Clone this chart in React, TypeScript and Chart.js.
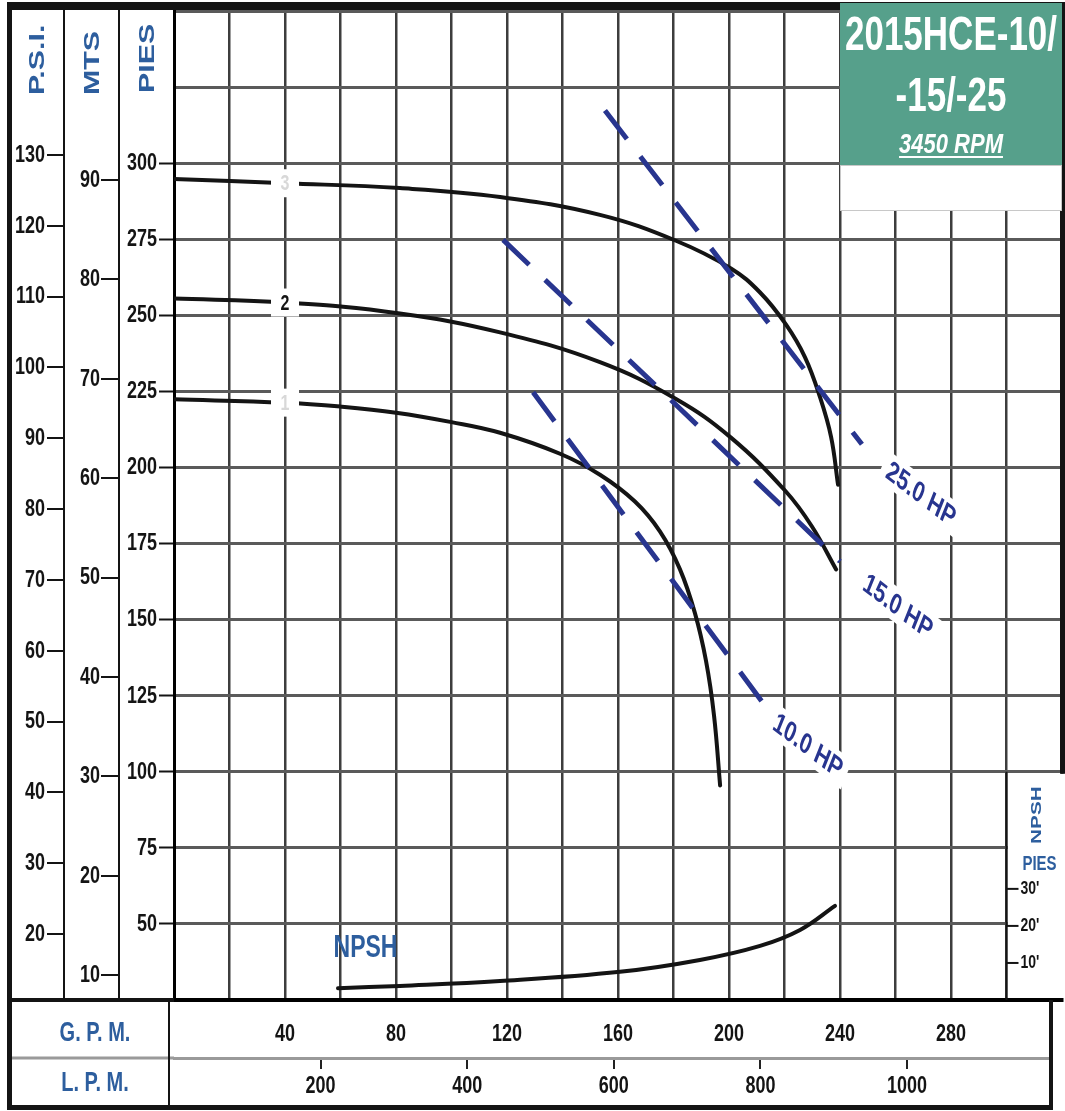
import React, { useEffect, useRef } from "react";
import { Chart, registerables } from "chart.js";

Chart.register(...registerables);

// ---------------- data ----------------
const GPM_GRID = [0, 20, 40, 60, 80, 100, 120, 140, 160, 180, 200, 220, 240, 260, 280, 300, 320];
const GPM_LABELS = [40, 80, 120, 160, 200, 240, 280];
const LPM_LABELS = [200, 400, 600, 800, 1000];
const PIES_GRID = [25, 50, 75, 100, 125, 150, 175, 200, 225, 250, 275, 300, 325, 350];
const PIES_LABELS = [50, 75, 100, 125, 150, 175, 200, 225, 250, 275, 300];
const MTS_LABELS = [10, 20, 30, 40, 50, 60, 70, 80, 90];
const PSI_LABELS = [20, 30, 40, 50, 60, 70, 80, 90, 100, 110, 120, 130];
const NPSH_LABELS = [10, 20, 30];

// head curves (flow in GPM, head in feet)
const FLOW_1 = [0, 40, 60, 80, 100, 117.5, 139.1, 153.5, 166.1, 175.1, 182.3, 187.7, 191.7, 194.6, 196.8];
const HEAD_1 = [222.4, 221.3, 220.0, 218.0, 214.9, 211.4, 204.5, 197.6, 188.8, 179.0, 166.6, 152.2, 136.5, 118.5, 95.5];
const FLOW_2 = [0, 40.4, 81.4, 117.5, 153.5, 180.9, 200.7, 220.5, 229.9, 238.6];
const HEAD_2 = [255.5, 254.2, 250.6, 244.4, 234.6, 222.5, 209.8, 192.1, 180.6, 166.5];
const FLOW_3 = [0, 40.4, 81.4, 117.5, 153.5, 180.9, 200.7, 211.2, 220.5, 227.4, 232.8, 236.8, 239.3];
const HEAD_3 = [294.8, 293.4, 291.8, 288.9, 283.0, 274.5, 265.4, 257.5, 247.0, 236.2, 223.1, 210.0, 194.3];

// NPSH required (flow GPM, feet)
const NPSH_FLOW = [59.1, 81.4, 117.5, 160.7, 189.5, 211.2, 225.6, 238.2];
const NPSH_FT = [3.2, 3.8, 5.1, 7.6, 10.8, 14.6, 18.9, 25.4];

// horsepower lines
const HP_NAMES = ["25.0 HP", "15.0 HP", "10.0 HP"];
const HP_FLOW_START = [155.3, 118.6, 129.4];
const HP_HEAD_START = [317.3, 274.8, 224.7];
const HP_FLOW_END = [247.9, 240.0, 213.0];
const HP_HEAD_END = [207.6, 169.1, 121.7];
const HP_LABEL_FLOW = [269.2, 260.9, 228.5];
const HP_LABEL_HEAD = [191.3, 154.4, 108.6];

// curve numbers
const CURVE_NAMES = ["1", "2", "3"];
const CURVE_LABEL_FLOW = 40;
const CURVE_LABEL_HEAD = [221.3, 254.2, 293.4];

// axis ranges
const GPM_MIN = 0;
const GPM_MAX = 320;
const LPM_PER_GPM = 3.78541;
const PIES_MIN = 25;
const PIES_MAX = 350;
const MTS_MIN = 7.5;
const MTS_MAX = 107;
const PSI_MIN = 10.7;
const PSI_MAX = 150.3;
const NPSH_MIN = 0;
const NPSH_MAX = 267;
const NPSH_AXIS_GPM = 300;
const NPSH_CORNER_FT = 100;

const TITLE_1 = "2015HCE-10/";
const TITLE_2 = "-15/-25";
const TITLE_3 = "3450 RPM";

// ---------------- styles ----------------
const SANS = '"Liberation Sans", Arial, "DejaVu Sans", sans-serif';
const STRETCH = 1.38;
const BLUE = "#2d5e9e";
const NAVY = "#28358f";
const GREEN = "#56a08b";
const INK = "#141414";
const TICK_FONT = `bold 18px ${SANS}`;

function tallText(ctx: any, text: string, x: number, y: number, font: string, color: string, align = "center", baseline = "middle", sy = STRETCH) {
  ctx.save();
  ctx.translate(x, y);
  ctx.scale(1, sy);
  ctx.font = font;
  ctx.fillStyle = color;
  ctx.textAlign = align;
  ctx.textBaseline = baseline;
  ctx.fillText(text, 0, 0);
  ctx.restore();
}

function upText(ctx: any, text: string, x: number, y: number, font: string, color: string, align = "left") {
  ctx.save();
  ctx.translate(x, y);
  ctx.rotate(-Math.PI / 2);
  ctx.scale(STRETCH, 1);
  ctx.font = font;
  ctx.fillStyle = color;
  ctx.textAlign = align;
  ctx.textBaseline = "middle";
  ctx.fillText(text, 0, 0);
  ctx.restore();
}

// tall condensed tick labels, taken from each Chart.js scale's own ticks
function drawScaleLabels(ctx: any, scale: any) {
  const o = scale.options;
  const tl = o.grid.tickLength;
  const pad = o.ticks.padding;
  scale.ticks.forEach((t: any) => {
    const label = t.label;
    if (label === "" || label == null) return;
    const p = scale.getPixelForValue(t.value);
    if (scale.isHorizontal()) {
      tallText(ctx, String(label), p, scale.top + tl + pad, TICK_FONT, INK, "center", "middle");
    } else {
      tallText(ctx, String(label), scale.right - tl - pad, p, TICK_FONT, INK, "right", "middle");
    }
  });
}

const overlayPlugin = {
  id: "overlay",
  afterDraw(chart: any) {
    const { ctx, chartArea: ca, scales } = chart;
    const gx = scales.gpm;
    const py = scales.pies;
    const ny = scales.npsh;
    ctx.save();

    ["psi", "mts", "pies", "gpm", "lpm"].forEach((id) => drawScaleLabels(ctx, scales[id]));

    // blank bottom-right corner holding the NPSH scale
    const xN = gx.getPixelForValue(NPSH_AXIS_GPM);
    const yTop = py.getPixelForValue(NPSH_CORNER_FT);
    ctx.fillStyle = "#fff";
    ctx.fillRect(xN + 1.5, yTop + 2, 1065 - xN, ca.bottom - yTop - 4);
    ctx.fillRect(1053, ca.bottom + 3, 12, 1111 - ca.bottom);

    ctx.strokeStyle = INK;
    ctx.lineWidth = 2;
    ctx.beginPath();
    ctx.moveTo(xN, yTop);
    ctx.lineTo(xN, ca.bottom);
    ctx.stroke();
    NPSH_LABELS.forEach((v) => {
      const y = ny.getPixelForValue(v);
      ctx.beginPath();
      ctx.moveTo(xN, y);
      ctx.lineTo(xN + 12, y);
      ctx.stroke();
      tallText(ctx, v + "'", xN + 14, y, `bold 14px ${SANS}`, INK, "left", "middle", 1.3);
    });
    const y30 = ny.getPixelForValue(NPSH_LABELS[2]);
    upText(ctx, "NPSH", xN + 30, y30 - 45, `bold 15px ${SANS}`, BLUE, "left");
    tallText(ctx, "PIES", xN + 33, y30 - 25, `bold 15px ${SANS}`, BLUE, "center");

    // label near the NPSH curve
    tallText(ctx, "NPSH", gx.getPixelForValue(69), ny.getPixelForValue(14), `bold 23px ${SANS}`, BLUE, "center");

    // frame
    ctx.fillStyle = INK;
    ctx.fillRect(7, 2, 1058, 8);
    ctx.fillRect(7, 2, 5, 1108);
    ctx.fillRect(7, 1105, 1046, 5);
    ctx.fillRect(1060, 2, 5, yTop);
    ctx.fillRect(1049, ca.bottom, 4, 1110 - ca.bottom);
    ctx.fillRect(12, ca.bottom - 2, ca.left - 12, 4);
    ctx.fillStyle = "#9a9a9a";
    ctx.fillRect(12, scales.lpm.top - 1.5, ca.left - 12, 3);
    ctx.fillStyle = INK;
    ctx.fillRect(168, ca.bottom, 2, 1106 - ca.bottom);

    // axis titles
    upText(ctx, "P.S.I.", 38, 95, `bold 22px ${SANS}`, BLUE);
    upText(ctx, "MTS", 93, 95, `bold 22px ${SANS}`, BLUE);
    upText(ctx, "PIES", 148, 93, `bold 22px ${SANS}`, BLUE);
    tallText(ctx, "G. P. M.", 95, 1033, `bold 20px ${SANS}`, BLUE);
    tallText(ctx, "L. P. M.", 95, 1083, `bold 20px ${SANS}`, BLUE);

    // curve numbers
    CURVE_NAMES.forEach((name, i) => {
      const x = gx.getPixelForValue(CURVE_LABEL_FLOW);
      const y = py.getPixelForValue(CURVE_LABEL_HEAD[i]);
      ctx.fillStyle = "#fff";
      ctx.fillRect(x - 14, y - 14, 28, 28);
      tallText(ctx, name, x, y + 1, `bold 16px ${SANS}`, i === 1 ? INK : "#d8d8d8");
    });

    // horsepower labels
    HP_NAMES.forEach((name, i) => {
      const x = gx.getPixelForValue(HP_LABEL_FLOW[i]);
      const y = py.getPixelForValue(HP_LABEL_HEAD[i]);
      ctx.save();
      ctx.translate(x, y);
      ctx.scale(1, STRETCH);
      ctx.rotate((29 * Math.PI) / 180);
      ctx.font = `bold 21px ${SANS}`;
      const w = ctx.measureText(name).width;
      ctx.fillStyle = "#fff";
      ctx.fillRect(-w / 2 - 6, -12, w + 12, 24);
      ctx.fillStyle = NAVY;
      ctx.textAlign = "center";
      ctx.textBaseline = "middle";
      ctx.fillText(name, 0, 1);
      ctx.restore();
    });

    // title box
    ctx.fillStyle = GREEN;
    ctx.fillRect(840, 3, 222, 162);
    ctx.fillStyle = "#fff";
    ctx.fillRect(840, 165, 222, 46);
    ctx.strokeStyle = "#c8c8c8";
    ctx.lineWidth = 1;
    ctx.strokeRect(840.5, 165.5, 221, 45);
    tallText(ctx, TITLE_1, 951, 50, `bold 35px ${SANS}`, "#fff", "center", "alphabetic");
    tallText(ctx, TITLE_2, 951, 111, `bold 35px ${SANS}`, "#fff", "center", "alphabetic");
    ctx.save();
    ctx.font = `italic bold 22px ${SANS}`;
    const tw = ctx.measureText(TITLE_3).width;
    ctx.restore();
    tallText(ctx, TITLE_3, 951, 153, `italic bold 22px ${SANS}`, "#fff", "center", "alphabetic", 1.25);
    ctx.fillStyle = "#fff";
    ctx.fillRect(951 - tw / 2, 156, tw, 2);

    ctx.restore();
  },
};

function curve(flow: number[], head: number[], axis: string) {
  return {
    type: "line",
    data: flow.map((f, i) => ({ x: f, y: head[i] })),
    xAxisID: "gpm",
    yAxisID: axis,
    borderColor: INK,
    borderWidth: 4,
    pointRadius: 0,
    fill: false,
    tension: 0.4,
    borderCapStyle: "round",
    borderJoinStyle: "round",
  };
}

function hpLine(i: number) {
  return {
    type: "line",
    data: [
      { x: HP_FLOW_START[i], y: HP_HEAD_START[i] },
      { x: HP_FLOW_END[i], y: HP_HEAD_END[i] },
    ],
    xAxisID: "gpm",
    yAxisID: "pies",
    borderColor: NAVY,
    borderWidth: 5,
    borderDash: [36, 22],
    pointRadius: 0,
    fill: false,
    tension: 0,
    borderCapStyle: "butt",
  };
}

const hiddenLabels = { display: false, autoSkip: false, maxRotation: 0 };

export default function App() {
  const ref = useRef<HTMLCanvasElement>(null);

  useEffect(() => {
    document.body.style.margin = "0";
    const canvas = ref.current!;
    const chart = new Chart(canvas, {
      type: "line",
      data: {
        datasets: [
          hpLine(0),
          hpLine(1),
          hpLine(2),
          curve(FLOW_1, HEAD_1, "pies"),
          curve(FLOW_2, HEAD_2, "pies"),
          curve(FLOW_3, HEAD_3, "pies"),
          curve(NPSH_FLOW, NPSH_FT, "npsh"),
        ] as any,
      },
      options: {
        responsive: false,
        animation: false,
        devicePixelRatio: 1,
        layout: { padding: { left: 12, top: 11, right: 3, bottom: 3 } },
        plugins: { legend: { display: false }, tooltip: { enabled: false }, title: { display: false } },
        scales: {
          gpm: {
            type: "linear",
            axis: "x",
            position: "bottom",
            weight: 1,
            min: GPM_MIN,
            max: GPM_MAX,
            afterBuildTicks: (s: any) => {
              s.ticks = GPM_GRID.map((v) => ({ value: v }));
            },
            ticks: { ...hiddenLabels, padding: 0, callback: (v: any) => (GPM_LABELS.includes(v) ? String(v) : "") },
            grid: { color: "#3d3d3d", lineWidth: 2.5, drawOnChartArea: true, tickLength: 34, tickColor: "rgba(0,0,0,0)" },
            border: { display: true, color: "#000", width: 4 },
            afterFit: (s: any) => {
              s.height = 58;
              s.paddingLeft = 0;
              s.paddingRight = 0;
            },
          },
          lpm: {
            type: "linear",
            axis: "x",
            position: "bottom",
            weight: 2,
            min: GPM_MIN * LPM_PER_GPM,
            max: GPM_MAX * LPM_PER_GPM,
            afterBuildTicks: (s: any) => {
              s.ticks = LPM_LABELS.map((v) => ({ value: v }));
            },
            ticks: { ...hiddenLabels, padding: 17, callback: (v: any) => String(v) },
            grid: { drawOnChartArea: false, tickLength: 11, color: "#222", lineWidth: 2 },
            border: { display: true, color: "#9a9a9a", width: 3 },
            afterFit: (s: any) => {
              s.height = 50;
              s.paddingLeft = 0;
              s.paddingRight = 0;
            },
          },
          pies: {
            type: "linear",
            axis: "y",
            position: "left",
            weight: 1,
            min: PIES_MIN,
            max: PIES_MAX,
            afterBuildTicks: (s: any) => {
              s.ticks = PIES_GRID.map((v) => ({ value: v }));
            },
            ticks: { ...hiddenLabels, padding: 2, callback: (v: any) => (PIES_LABELS.includes(v) ? String(v) : "") },
            grid: {
              color: "#5a5a5a",
              lineWidth: 3,
              drawOnChartArea: true,
              tickLength: 15,
              tickWidth: 2,
              tickColor: (c: any) => (c.tick && PIES_LABELS.includes(c.tick.value) ? INK : "rgba(0,0,0,0)"),
            },
            border: { display: true, color: "#000", width: 3 },
            afterFit: (s: any) => {
              s.width = 55;
              s.paddingTop = 0;
              s.paddingBottom = 0;
            },
          },
          mts: {
            type: "linear",
            axis: "y",
            position: "left",
            weight: 2,
            min: MTS_MIN,
            max: MTS_MAX,
            afterBuildTicks: (s: any) => {
              s.ticks = MTS_LABELS.map((v) => ({ value: v }));
            },
            ticks: { ...hiddenLabels, padding: 1, callback: (v: any) => String(v) },
            grid: { drawOnChartArea: false, tickLength: 18, color: INK, lineWidth: 2 },
            border: { display: true, color: INK, width: 2 },
            afterFit: (s: any) => {
              s.width = 55;
              s.paddingTop = 0;
              s.paddingBottom = 0;
            },
          },
          psi: {
            type: "linear",
            axis: "y",
            position: "left",
            weight: 3,
            min: PSI_MIN,
            max: PSI_MAX,
            afterBuildTicks: (s: any) => {
              s.ticks = PSI_LABELS.map((v) => ({ value: v }));
            },
            ticks: { ...hiddenLabels, padding: 2, callback: (v: any) => String(v) },
            grid: { drawOnChartArea: false, tickLength: 17, color: INK, lineWidth: 2 },
            border: { display: true, color: INK, width: 2 },
            afterFit: (s: any) => {
              s.width = 52;
              s.paddingTop = 0;
              s.paddingBottom = 0;
            },
          },
          npsh: {
            type: "linear",
            axis: "y",
            position: "right",
            display: false,
            min: NPSH_MIN,
            max: NPSH_MAX,
          },
        },
      } as any,
      plugins: [overlayPlugin],
    });
    return () => chart.destroy();
  }, []);

  return (
    <div style={{ width: 1065, height: 1111, background: "#fff" }}>
      <canvas ref={ref} width={1065} height={1111} style={{ display: "block" }} />
    </div>
  );
}
